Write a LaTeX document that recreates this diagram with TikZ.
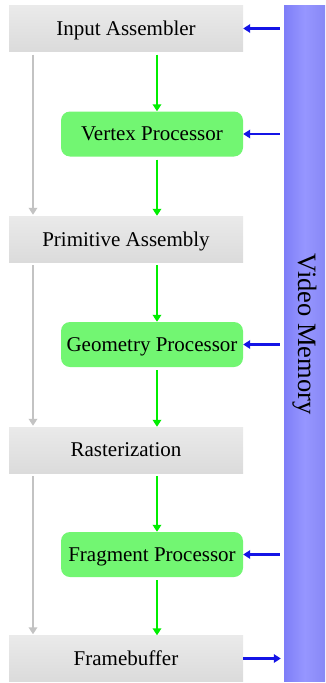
\documentclass[tikz,border=0pt]{standalone}
\usepackage{fontspec}
\setmainfont{Liberation Serif}
\usetikzlibrary{arrows.meta}
\definecolor{graytop}{RGB}{234,234,234}
\definecolor{graybot}{RGB}{219,219,219}
\definecolor{boxgreen}{RGB}{114,246,114}
\definecolor{arrgreen}{RGB}{0,238,0}
\definecolor{arrgray}{RGB}{195,195,195}
\definecolor{arrblue}{RGB}{20,20,230}
\definecolor{memleft}{RGB}{126,126,248}
\definecolor{memmid}{RGB}{150,150,255}
\definecolor{memright}{RGB}{136,136,246}
\tikzset{
  stagebox/.style={rectangle, top color=graytop, bottom color=graybot, draw=none,
    minimum width=234pt, minimum height=46pt, inner sep=0pt, text depth=0pt,
    font=\fontsize{21}{25}\selectfont},
  procbox/.style={rectangle, rounded corners=9pt, fill=boxgreen, draw=none,
    minimum width=182pt, minimum height=45pt, inner sep=0pt, text depth=0pt,
    font=\fontsize{21}{25}\selectfont},
  memory/.style={rectangle, left color=memleft, right color=memright, middle color=memmid,
    draw=none, minimum width=41pt, minimum height=676pt, inner sep=0pt},
  garrow/.style={draw=arrgreen, line width=2.3pt, -{Triangle[length=7pt,width=8.5pt]}},
  grarrow/.style={draw=arrgray, line width=2.3pt, -{Triangle[length=7pt,width=8.5pt]}},
  barrow/.style={draw=arrblue, line width=2.3pt, -{Triangle[length=7pt,width=8.5pt]}},
}
\begin{document}
\begin{tikzpicture}[x=1pt,y=1pt]
\useasboundingbox (0,0) rectangle (326,-683);
\node[memory] (VM) at (304.5,-343) {};
\node[rotate=-90, font=\fontsize{26.5}{30}\selectfont, inner sep=0pt] (VMT) at (304.5,-334) {Video Memory};

\node[stagebox] (IA) at (126,-28.5) {Input Assembler};
\node[stagebox] (PA) at (126,-239) {Primitive Assembly};
\node[stagebox] (RA) at (126,-450) {Rasterization};
\node[stagebox] (FB) at (126,-658.5) {Framebuffer};

\node[procbox] (VP) at (152,-134) {Vertex Processor};
\node[procbox] (GP) at (152,-344.5) {Geometry Processor};
\node[procbox] (FP) at (152,-554.5) {Fragment Processor};

\coordinate (gx) at (157,0);
\coordinate (lx) at (33,0);

% green flow
\draw[garrow] ([yshift=-3pt]IA.south -| gx) -- (VP.north -| gx);
\draw[garrow] ([yshift=-3pt]VP.south -| gx) -- (PA.north -| gx);
\draw[garrow] ([yshift=-3pt]PA.south -| gx) -- (GP.north -| gx);
\draw[garrow] ([yshift=-3pt]GP.south -| gx) -- (RA.north -| gx);
\draw[garrow] ([yshift=-3pt]RA.south -| gx) -- (FP.north -| gx);
\draw[garrow] ([yshift=-3pt]FP.south -| gx) -- (FB.north -| gx);

% gray bypass
\draw[grarrow] ([yshift=-3pt]IA.south -| lx) -- ([yshift=1pt]PA.north -| lx);
\draw[grarrow] ([yshift=-3pt]PA.south -| lx) -- ([yshift=1pt]RA.north -| lx);
\draw[grarrow] ([yshift=-3pt]RA.south -| lx) -- ([yshift=1pt]FB.north -| lx);

% memory links
\draw[barrow] ([xshift=-4pt]VM.west |- IA.east) -- (IA.east);
\draw[barrow] ([xshift=-4pt]VM.west |- VP.east) -- (VP.east);
\draw[barrow] ([xshift=-4pt]VM.west |- GP.east) -- (GP.east);
\draw[barrow] ([xshift=-4pt]VM.west |- FP.east) -- (FP.east);
\draw[barrow] (FB.east) -- ([xshift=-3pt]VM.west |- FB.east);
\end{tikzpicture}
\end{document}
